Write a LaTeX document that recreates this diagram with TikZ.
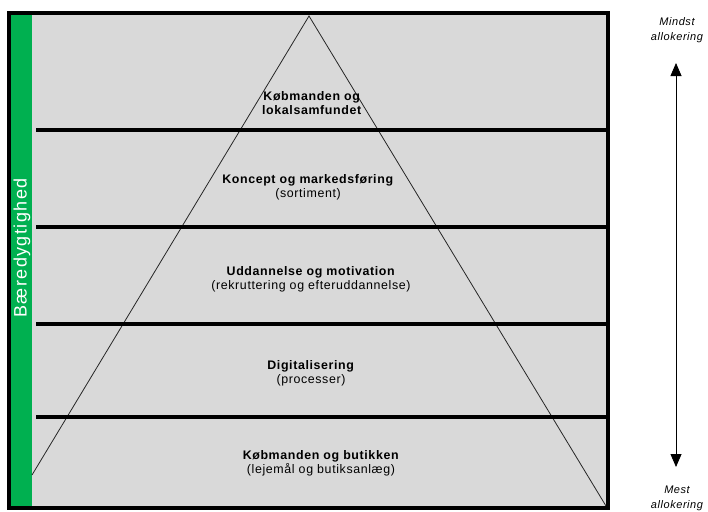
\documentclass[tikz,border=0pt]{standalone}
\usepackage{fontspec}
\setmainfont{Liberation Sans}
\usetikzlibrary{arrows.meta}
\definecolor{boxgray}{RGB}{217,217,217}
\definecolor{bargreen}{RGB}{0,176,80}
\begin{document}
\begin{tikzpicture}[x=1pt,y=-1pt,
    tiertext/.style={font=\fontsize{12.4}{14}\selectfont\addfontfeature{LetterSpace=5},
      align=center,anchor=base,inner sep=0pt},
    sidetext/.style={font=\fontsize{11}{15}\selectfont\itshape\addfontfeature{LetterSpace=5},
      align=center,anchor=base,inner sep=0pt},
    tierline/.style={line width=4.5pt},
    tip/.tip={Triangle[width=11pt,length=13pt]}]
  \useasboundingbox (0,0) rectangle (708,511);
  \fill[boxgray] (9,13) rectangle (608,508);
  \fill[bargreen] (11,15) rectangle (32,506);
  \coordinate (apex) at (309,16);
  \coordinate (footL) at (32,475);
  \coordinate (footR) at (606,506);
  \draw[line width=0.8pt,black!85] (footL) -- (apex) -- (footR);
  \foreach \y in {130,227,324,417}
    \draw[tierline] (36,\y) -- (608,\y);
  \draw[line width=4pt] (9,13) rectangle (608,508);
  \node[rotate=90,text=white,inner sep=0pt,
    font=\fontsize{18}{20}\selectfont\addfontfeature{LetterSpace=8}]
    (baered) at (22,248) {Bæredygtighed};
  \node[tiertext] (lokal) at (312,114) {\textbf{Købmanden og}\\\textbf{lokalsamfundet}};
  \node[tiertext] (koncept) at (308,197) {\textbf{Koncept og markedsføring}\\(sortiment)};
  \node[tiertext] (uddan) at (311,289) {\textbf{Uddannelse og motivation}\\(rekruttering og efteruddannelse)};
  \node[tiertext] (digital) at (311,383) {\textbf{Digitalisering}\\(processer)};
  \node[tiertext] (butik) at (321,473) {\textbf{Købmanden og butikken}\\(lejemål og butiksanlæg)};
  \node[sidetext] (mindst) at (677,41) {Mindst\\allokering};
  \node[sidetext] (mest) at (677,508) {Mest\\allokering};
  \coordinate (arrtop) at (676,63);
  \coordinate (arrbot) at (676,467);
  \draw[tip-tip,line width=0.8pt] (arrtop) -- (arrbot);
\end{tikzpicture}
\end{document}
